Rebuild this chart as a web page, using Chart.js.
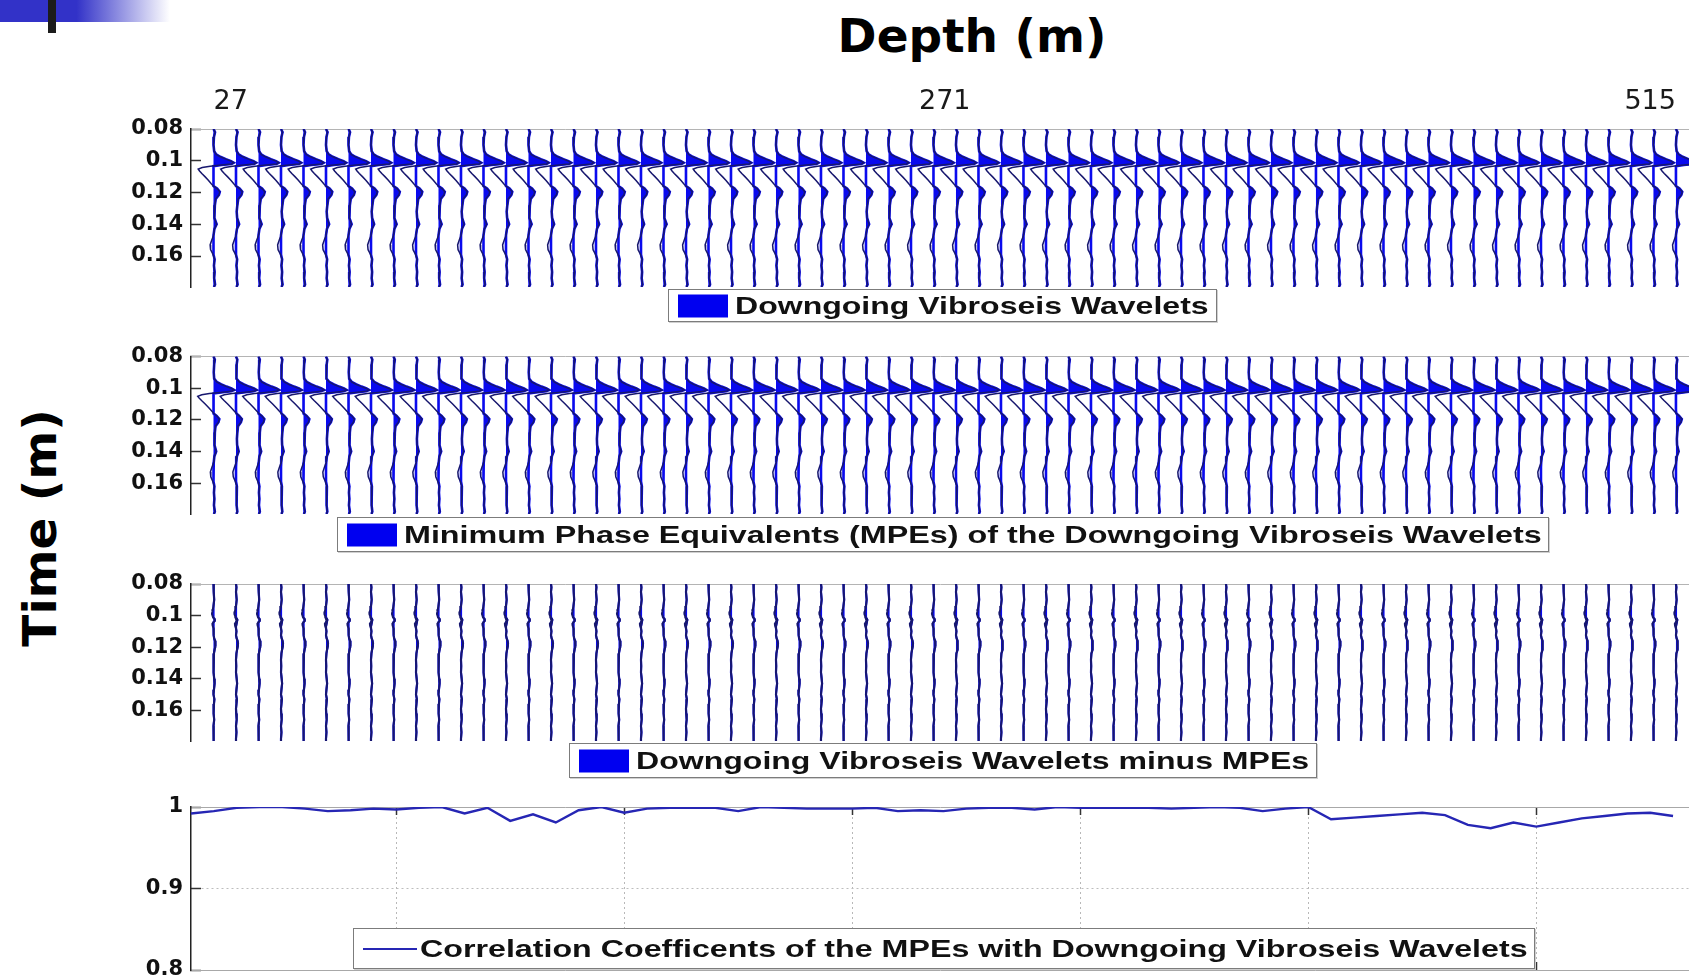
<!DOCTYPE html>
<html>
<head>
<meta charset="utf-8">
<title>Downgoing Vibroseis Wavelets and MPEs</title>
<script src="https://cdn.jsdelivr.net/npm/chart.js@4.4.1/dist/chart.umd.min.js"></script>
<style>
  html, body { margin: 0; padding: 0; background: #fff; }
  body { position: relative; width: 1689px; height: 980px; overflow: hidden; font-family: 'DejaVu Sans', sans-serif; }
  canvas { position: absolute; left: 0; }
  .slide-bar { position: absolute; left: 0; top: 0; width: 170px; height: 22px;
    background: linear-gradient(to right, #3232c8 0%, #3232c8 45%, rgba(50,50,200,0) 100%); }
  .slide-tick { position: absolute; left: 48px; top: 0; width: 8px; height: 33px; background: #1c1c1c; }
  .title { position: absolute; font-weight: bold; color: #000; white-space: nowrap; font-size: 47px;
    transform: translate(-50%, -50%); }
  .legend { position: absolute; box-sizing: border-box; background: #fff; border: 1px solid #7c7c7c;
    box-shadow: 1px 1px 0 #d0d0d0; }
  .legend .key { position: absolute; left: 9px; top: 50%; transform: translateY(-50%); background: #0000f0; }
  .legend .label { position: absolute; left: 66px; top: 50%; white-space: nowrap; color: #111;
    font: bold 24px 'Liberation Sans', Arial, sans-serif; transform-origin: 0 50%; }
</style>
</head>
<body>
<div class="slide-bar"></div>
<div class="slide-tick"></div>
<div class="title" style="left:972px;top:35px">Depth (m)</div>
<div class="title" style="left:39px;top:528px;transform:translate(-50%,-50%) rotate(-90deg)">Time (m)</div>

<canvas id="wavelets" width="1689" height="294" style="top:0px"></canvas>
<canvas id="mpes" width="1689" height="182" style="top:338px"></canvas>
<canvas id="residual" width="1689" height="181" style="top:566px"></canvas>
<canvas id="correlation" width="1689" height="192" style="top:788px"></canvas>

<script>
// Data
const traceCount = 66;
const depthTicks = [27, 271, 515];
const timeTicks = [0.08, 0.1, 0.12, 0.14, 0.16];

// one wavelet sample list, amplitude in units of trace spacing
const waveTime = [0.0800, 0.0820, 0.0850, 0.0900, 0.0940, 0.0960, 0.0975, 0.0990, 0.1002, 0.1012,
                  0.1020, 0.1027, 0.1034, 0.1042, 0.1052, 0.1064, 0.1080, 0.1100, 0.1124, 0.1145,
                  0.1160, 0.1175, 0.1195, 0.1215, 0.1240, 0.1280, 0.1320, 0.1360, 0.1400, 0.1430,
                  0.1470, 0.1500, 0.1530, 0.1560, 0.1590, 0.1620, 0.1660, 0.1700, 0.1740, 0.1780, 0.1795];
const downgoingAmp = [0.00, 0.07, 0.02, 0.00, 0.03, 0.12, 0.30, 0.55, 0.78, 0.90,
                      0.80, 0.35, -0.15, -0.50, -0.68, -0.62, -0.52, -0.38, -0.22, -0.10,
                      0.00, 0.16, 0.28, 0.24, 0.10, 0.06, 0.03, 0.05, 0.14, 0.04,
                      0.00, -0.08, -0.15, -0.13, -0.02, 0.05, 0.02, 0.05, 0.03, 0.07, 0.02];
const mpeAmp = [0.00, 0.06, 0.03, 0.01, 0.03, 0.14, 0.33, 0.58, 0.80, 0.92,
                0.78, 0.32, -0.18, -0.52, -0.70, -0.63, -0.52, -0.37, -0.21, -0.08,
                0.02, 0.14, 0.26, 0.22, 0.09, 0.06, 0.04, 0.05, 0.12, 0.04,
                0.01, -0.07, -0.14, -0.12, -0.03, 0.04, 0.02, 0.04, 0.02, 0.06, 0.02];
const residualAmp = [0.00, 0.02, 0.00, 0.03, 0.00, -0.03, -0.05, -0.07, -0.04, -0.02,
                     0.04, 0.06, 0.05, 0.00, -0.05, -0.04, 0.00, 0.02, 0.00, 0.03,
                     0.07, 0.09, 0.08, 0.05, 0.02, 0.00, 0.01, 0.00, 0.03, 0.05,
                     0.02, 0.00, 0.04, 0.02, 0.00, 0.01, 0.03, 0.00, 0.02, 0.00, 0.00];

const corrTicksX = [10, 20, 30, 40, 50, 60];
const corrTicksY = [0.8, 0.9, 1];
const correlation = [0.992, 0.995, 0.999, 1.000, 1.000, 0.998, 0.995, 0.996, 0.998, 0.997,
                     0.999, 1.000, 0.992, 0.999, 0.983, 0.991, 0.981, 0.996, 1.000, 0.993,
                     0.998, 0.999, 0.999, 0.999, 0.995, 1.000, 0.999, 0.998, 0.998, 0.998,
                     0.999, 0.995, 0.996, 0.995, 0.998, 0.999, 0.999, 0.997, 1.000, 0.999,
                     0.999, 0.999, 0.999, 0.998, 0.999, 1.000, 0.999, 0.995, 0.998, 1.000,
                     0.985, 0.987, 0.989, 0.991, 0.993, 0.990, 0.978, 0.974, 0.981, 0.976,
                     0.981, 0.986, 0.989, 0.992, 0.993, 0.989];

const legendLabels = [
    'Downgoing Vibroseis Wavelets',
    'Minimum Phase Equivalents (MPEs) of the Downgoing Vibroseis Wavelets',
    'Downgoing Vibroseis Wavelets minus MPEs',
    'Correlation Coefficents of the MPEs with Downgoing Vibroseis Wavelets'
];

// Layout
const axisLeft = 191;
const traceAxisMax = 66.58;   // trace number at the right edge of the picture
const corrAxisMax = 66.7;
const fillBlue = '#0a0aee';
const traceNavy = '#17176e';
const tickFont = { family: 'DejaVu Sans', weight: 'bold', size: 21 };

function fixBox(width, height) {
    return (scale) => {
        if (width !== null) scale.width = width;
        if (height !== null) scale.height = height;
        scale.paddingTop = 0;
        scale.paddingBottom = 0;
        scale.paddingLeft = 0;
        scale.paddingRight = 0;
    };
}

function setTicks(values) {
    return (scale) => { scale.ticks = values.map(v => ({ value: v })); };
}

// MATLAB style labels: 0.1 not 0.10, 1 not 1.0
const plainLabel = (v) => String(v);

function wiggleDatasets(amp, fillWidth, lineWidth) {
    const sets = [];
    for (let tr = 1; tr <= traceCount; tr++) {
        sets.push({
            data: waveTime.map((t, k) => ({ x: tr + Math.max(amp[k], 0), y: t })),
            fill: { value: tr },
            backgroundColor: fillBlue,
            borderColor: fillBlue,
            borderWidth: fillWidth,
            order: 2
        });
        sets.push({
            data: waveTime.map((t, k) => ({ x: tr + amp[k], y: t })),
            fill: false,
            borderColor: traceNavy,
            borderWidth: lineWidth,
            order: 1
        });
    }
    return sets;
}

function timeAxis() {
    return {
        type: 'linear',
        position: 'left',
        reverse: true,
        min: 0.08,
        max: 0.1795,
        afterBuildTicks: setTicks(timeTicks),
        afterFit: fixBox(axisLeft, null),
        grid: { drawOnChartArea: false, tickLength: -10, tickColor: '#333', tickWidth: 1.5 },
        border: { color: '#222', width: 1.5 },
        ticks: { padding: 18, color: '#111', font: tickFont, callback: plainLabel }
    };
}

function wiggleChart(id, amp, fillWidth, lineWidth, padTop, padBottom, withDepth) {
    const depthStep = (depthTicks[2] - depthTicks[0]) / (traceCount - 1);
    const topAxis = withDepth ? {
        type: 'linear',
        position: 'top',
        min: depthTicks[0] - depthStep,
        max: depthTicks[0] + depthStep * (traceAxisMax - 1),
        afterBuildTicks: setTicks(depthTicks),
        afterFit: fixBox(null, 129),
        grid: { display: false, drawTicks: false },
        border: { display: true, color: '#b4b4b4', width: 1 },
        ticks: { align: 'inner', autoSkip: false, maxRotation: 0, padding: 11, color: '#1a1a1a',
                 font: { family: 'DejaVu Sans', size: 27 } }
    } : {
        type: 'linear',
        position: 'top',
        min: 0,
        max: traceAxisMax,
        afterFit: fixBox(null, 0),
        grid: { display: false, drawTicks: false },
        border: { display: true, color: '#b4b4b4', width: 1 },
        ticks: { display: false }
    };

    return new Chart(document.getElementById(id), {
        type: 'line',
        data: { datasets: wiggleDatasets(amp, fillWidth, lineWidth) },
        options: {
            indexAxis: 'y',
            responsive: false,
            animation: false,
            events: [],
            layout: { padding: { top: padTop, bottom: padBottom, left: 0, right: 0 } },
            elements: { point: { radius: 0 }, line: { tension: 0 } },
            plugins: { legend: { display: false }, tooltip: { enabled: false } },
            scales: {
                x: { type: 'linear', display: false, min: 0, max: traceAxisMax },
                top: topAxis,
                y: timeAxis()
            }
        }
    });
}

wiggleChart('wavelets', downgoingAmp, 2.6, 1.5, 0, 7, true);
wiggleChart('mpes', mpeAmp, 2.6, 1.5, 18.5, 6, false);
wiggleChart('residual', residualAmp, 2.2, 2.0, 18, 6, false);

// Correlation coefficients
new Chart(document.getElementById('correlation'), {
    type: 'line',
    data: {
        datasets: [{
            data: correlation.map((v, i) => ({ x: i + 1, y: v })),
            borderColor: '#2626b4',
            borderWidth: 2.4,
            fill: false
        }]
    },
    options: {
        responsive: false,
        animation: false,
        events: [],
        layout: { padding: { top: 19, bottom: 0, left: 0, right: 0 } },
        elements: { point: { radius: 0 }, line: { tension: 0 } },
        plugins: { legend: { display: false }, tooltip: { enabled: false } },
        scales: {
            x: {
                type: 'linear', position: 'bottom', min: 1, max: corrAxisMax,
                afterBuildTicks: setTicks(corrTicksX),
                afterFit: fixBox(null, 10),
                grid: { color: '#b8b8b8', lineWidth: 1, tickLength: -8, tickColor: '#333', tickWidth: 1.5 },
                border: { color: '#a8a8a8', width: 1, dash: [2, 3] },
                ticks: { display: false }
            },
            xTop: {
                type: 'linear', position: 'top', min: 1, max: corrAxisMax,
                afterBuildTicks: setTicks(corrTicksX),
                afterFit: fixBox(null, 0),
                grid: { drawOnChartArea: false, tickLength: -8, tickColor: '#333', tickWidth: 1.5 },
                border: { color: '#a8a8a8', width: 1 },
                ticks: { display: false }
            },
            y: {
                type: 'linear', position: 'left', min: 0.8, max: 1,
                afterBuildTicks: setTicks(corrTicksY),
                afterFit: fixBox(axisLeft, null),
                grid: {
                    color: (c) => (c.tick && Math.abs(c.tick.value - 0.9) < 1e-9) ? '#bdbdbd' : 'rgba(0,0,0,0)',
                    tickLength: -10, tickColor: '#333', tickWidth: 1.5
                },
                border: { color: '#222', width: 1.5, dash: [2, 3] },
                ticks: { padding: 18, color: '#111', font: tickFont, callback: plainLabel }
            }
        }
    }
});

// Legends (MATLAB style boxes)
const legendBoxes = [
    { left: 668, top: 289, width: 549, height: 33, key: 'patch' },
    { left: 337, top: 517, width: 1212, height: 35, key: 'patch' },
    { left: 569, top: 743, width: 748, height: 35, key: 'patch' },
    { left: 353, top: 928, width: 1182, height: 41, key: 'line' }
];

legendBoxes.forEach((b, i) => {
    const box = document.createElement('div');
    box.className = 'legend';
    box.style.left = b.left + 'px';
    box.style.top = b.top + 'px';
    box.style.width = b.width + 'px';
    box.style.height = b.height + 'px';

    const key = document.createElement('div');
    key.className = 'key';
    if (b.key === 'patch') {
        key.style.width = '50px';
        key.style.height = '23px';
    } else {
        key.style.width = '54px';
        key.style.height = '2px';
        key.style.background = '#2626b4';
    }
    box.appendChild(key);

    const label = document.createElement('span');
    label.className = 'label';
    label.textContent = legendLabels[i];
    box.appendChild(label);
    document.body.appendChild(box);

    const target = b.width - 66 - 9;
    const k = target / label.offsetWidth;
    label.style.transform = `translateY(-50%) scaleX(${k})`;
});
</script>
</body>
</html>
